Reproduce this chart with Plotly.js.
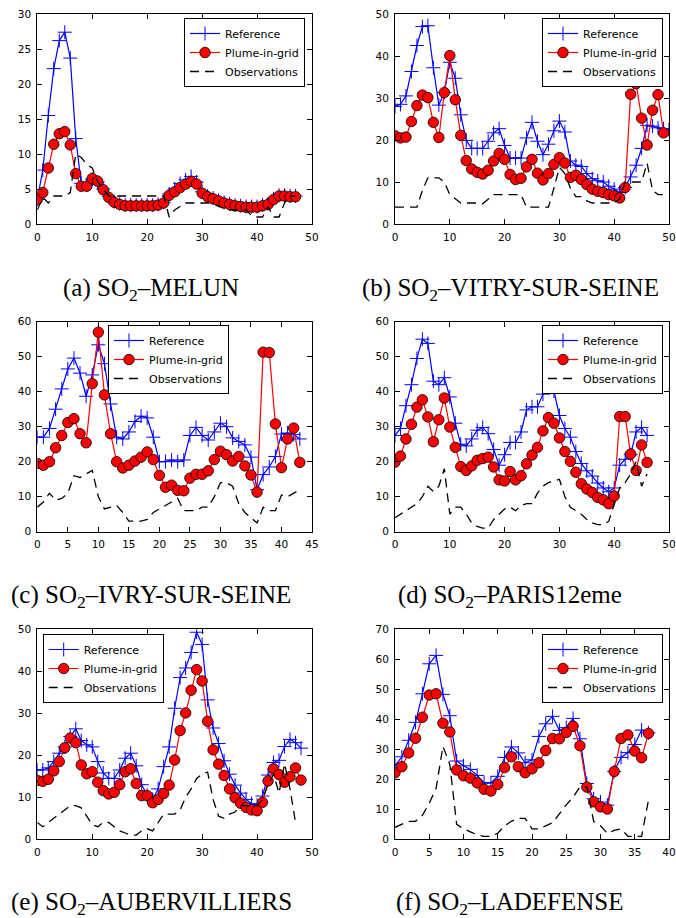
<!DOCTYPE html>
<html>
<head>
<meta charset="utf-8">
<script src="https://cdn.plot.ly/plotly-3.0.1.min.js"></script>
<style>html,body{margin:0;padding:0;background:#fff;}#chart{width:676px;height:918px;}</style>
</head>
<body>
<div id="chart"></div>
<script>
// ---------- data ----------
const seriesNames = ["Reference", "Plume-in-grid", "Observations"];
const captions = ["(a) SO<sub>2</sub>–MELUN", "(b) SO<sub>2</sub>–VITRY-SUR-SEINE", "(c) SO<sub>2</sub>–IVRY-SUR-SEINE",
                  "(d) SO<sub>2</sub>–PARIS12eme", "(e) SO<sub>2</sub>–AUBERVILLIERS", "(f) SO<sub>2</sub>–LADEFENSE"];

const a_ref = [3.5, 7.7, 15.5, 22.2, 26.2, 27.4, 23.7, 12.2, 5.8, 5.6, 6.4, 6.0, 5.0, 3.9, 3.2, 2.9, 2.7, 2.7, 2.7, 2.7, 2.7, 2.7, 2.8, 3.1, 4.3, 5.0, 5.8, 6.3, 6.8, 6.0, 4.6, 4.0, 3.7, 3.4, 3.1, 2.9, 2.7, 2.6, 2.5, 2.5, 2.5, 2.7, 2.9, 3.6, 4.1, 4.1, 4.0, 4.0];
const a_pig = [3.5, 4.5, 8.0, 11.4, 12.9, 13.2, 11.3, 7.2, 5.4, 5.4, 6.5, 6.1, 4.9, 3.8, 3.1, 2.8, 2.6, 2.6, 2.6, 2.6, 2.6, 2.6, 2.7, 3.0, 4.1, 4.6, 5.2, 5.7, 6.1, 5.7, 4.4, 3.9, 3.6, 3.3, 3.0, 2.8, 2.6, 2.5, 2.4, 2.4, 2.4, 2.6, 2.8, 3.5, 4.0, 4.0, 3.9, 3.9];
const a_obs = [2, 3.8, 3, 4, 4, 4, 4.5, 10, 9.5, 8.5, 8, 6, 5, 4, 4, 4, 4, 4, 4, 4, 4, 4, 4, 4, 1, 2, 2.5, 3, 3, 3, 3, 3, 3, 2.5, 2.2, 2, 2, 2, 2, 1.2, 1, 1, 2.5, 1, 1, 3, 4, 4];

const b_ref = [28, 28.5, 30.5, 36.3, 42.5, 47, 47.2, 37.2, 28.3, 31.3, 38.5, 34.7, 26, 19.9, 18, 18, 18, 19.7, 21.7, 22.7, 18.7, 15.7, 15.7, 15.7, 20.5, 24.2, 19.7, 16.5, 19, 22.2, 24.5, 21.9, 15, 14, 13.7, 12, 10.8, 10.3, 10, 9, 8.3, 7.5, 8.7, 11.2, 14, 18, 23.5, 23.3, 22.9, 22.7, 22.5];
const b_pig = [21, 20.5, 20.7, 24.4, 28.2, 30.7, 30.1, 24.2, 20.6, 31.3, 40.1, 29.6, 21.1, 15.1, 13.1, 12.3, 11.9, 12.8, 15, 16.8, 15.4, 11.8, 10.6, 10.9, 13.6, 15.4, 12.1, 10.5, 12, 14.2, 15.8, 14.5, 11.1, 11.6, 10.6, 9.4, 8.3, 7.8, 7.5, 7, 6.7, 6.2, 8.7, 30.9, 33.4, 25.2, 18.8, 27.1, 30.8, 21.7];
const b_obs = [4, 4, 4, 4, 4, 8, 11, 11, 11, 10, 7, 6, 5, 5, 5, 5, 4.8, 6, 7, 7, 7, 7, 7, 7, 4, 4, 4, 4, 4, 8.5, 13.5, 12, 8.5, 6.5, 6.5, 5.5, 5, 5, 5, 5, 5, 6, 10, 10, 10, 10, 14.5, 8, 7, 7];

const c_ref = [27, 27, 29.5, 35, 40.8, 46.5, 49.6, 45.3, 38.7, 44.8, 53.4, 48, 36.5, 27, 26.5, 28.5, 31.5, 33, 32.5, 27, 20, 20, 20.5, 20, 20.5, 27.5, 29.8, 27.5, 26.2, 28.5, 31, 30, 26.8, 25.8, 24.8, 21.3, 12, 16.3, 18.5, 21.5, 27.9, 28.2, 27.8, 26.5];
const c_pig = [19.5, 19, 20, 24, 27.5, 31.2, 32.3, 28, 25.4, 42.3, 57, 39.1, 28, 20, 18.2, 19, 20.2, 21.3, 22.8, 20.6, 16.1, 12.7, 13.3, 11.8, 11.7, 15.3, 16.4, 16.4, 17.4, 20.6, 23, 22, 20.2, 21.5, 18.8, 16.2, 11.3, 51.3, 51.2, 30.8, 18.3, 26.5, 29.6, 19.8];
const c_obs = [7, 8.5, 11, 9, 9.5, 11, 16, 15.5, 16.5, 17.5, 10, 6.5, 7, 7.5, 5.5, 3, 3, 3, 3.5, 5.5, 6.5, 7.5, 8.5, 9.5, 6, 6, 6, 7, 7, 10, 14, 14, 13, 8, 5.5, 4, 2.5, 7, 6, 6, 10.5, 10, 11, 12];

const d_ref = [27.5, 29.5, 36, 42, 49.5, 55, 53.8, 43, 42, 44, 38.5, 31, 25, 24.5, 26.5, 29, 29.8, 28, 23.5, 19, 22, 25.5, 25.5, 28.5, 34.8, 35.7, 35.7, 39.3, 42.8, 40.2, 33.2, 29.5, 27, 22.9, 19.5, 17.4, 15.9, 13.9, 12.5, 11.4, 12.5, 19, 20.7, 22, 28.5, 29.8, 27.5];
const d_pig = [19.9, 21.6, 26.5, 30.7, 35.6, 37.7, 32.8, 25.7, 32, 38.2, 29.9, 24.1, 18.6, 17.5, 18.8, 20.4, 20.9, 21.3, 18.5, 14.8, 14.5, 17.2, 14.8, 16, 19.4, 21.9, 24.1, 28.8, 32.6, 31, 26.8, 22.9, 20.1, 17, 13.7, 12.2, 11.2, 9.8, 9.1, 8, 10.2, 32.9, 32.9, 22.2, 17.5, 24.8, 19.8];
const d_obs = [4, 5, 6, 7, 8, 10, 13, 11.5, 13, 18, 5, 7, 7, 5, 2.5, 1.5, 1, 1, 3.5, 5, 6.5, 7, 6, 7.5, 8, 8, 11, 13, 14, 14.5, 15, 10, 7, 6, 5, 3.5, 2.5, 2, 2, 3, 7.5, 12.5, 14, 16.5, 20, 13, 16.5];

const e_ref = [16.5, 16.5, 17, 18.5, 20.5, 22, 24.5, 26.3, 23.5, 22.5, 22, 18.5, 15.8, 14.5, 14.5, 16.5, 19.3, 20.5, 17.5, 13, 10.5, 9.5, 12, 17.3, 22, 31.2, 38.5, 40.8, 44.5, 49.3, 46.4, 33.2, 26.5, 22.8, 18.7, 15.5, 12.9, 11, 9.5, 8.5, 8.1, 10.3, 15.3, 18.3, 18.8, 22.1, 23.8, 23, 21.7];
const e_pig = [14, 13.8, 14.3, 16.3, 18.5, 21.8, 24.1, 23, 17.7, 15.6, 16.1, 13.6, 11.6, 10.8, 11.2, 13, 16.1, 16.8, 13.3, 10.4, 10.4, 8.7, 9.5, 10.9, 12.9, 18.9, 25.9, 30.1, 35.5, 40.4, 37.7, 28.1, 21.3, 17.9, 15.2, 12, 9.9, 8.6, 7.6, 7, 6.8, 8.8, 13.9, 16.8, 15.4, 13.6, 14.9, 17, 14.1];
const e_obs = [4, 3, 4, 5, 6, 7, 8, 8, 7.5, 5.5, 3.5, 3, 4, 4, 3, 2, 1.5, 1, 1, 2, 2.5, 2, 4, 6, 6, 6, 7, 10, 12, 14.5, 15.5, 16, 9.5, 5.5, 5, 6, 6.5, 8, 8, 8, 8, 9.5, 13, 15.5, 11, 18, 12, 4];

const f_ref = [24.5, 27.5, 33, 39, 48.5, 58.5, 61.3, 48.3, 41.2, 26.1, 24.5, 23.3, 21.3, 18.8, 18.8, 21, 27.3, 30.8, 28.8, 25.5, 26.5, 34.3, 38.5, 41, 36.3, 37.2, 40.3, 33.5, 18.6, 13.5, 12.4, 11.4, 22.6, 27.3, 28.9, 31.6, 36.4, 35.5];
const f_pig = [22.2, 24.2, 28.8, 33.7, 40.7, 48.1, 48.5, 38.7, 35.8, 23.1, 21.2, 20.4, 18.8, 16.7, 16.1, 18.3, 23.9, 27.5, 24.2, 22.2, 23.5, 25.5, 29.6, 33.6, 33.5, 35.6, 37.7, 31.2, 17.4, 12.5, 10.8, 10.1, 22.6, 33.6, 34.8, 29.4, 27.2, 35.3];
const f_obs = [4, 5, 6, 6, 8, 12, 17, 31, 25, 5, 3.5, 2.5, 1.5, 1, 1, 2, 4.5, 6, 7, 7, 3.5, 3.5, 4.5, 5.5, 8.5, 11.5, 14, 17.5, 17.5, 6, 4.5, 2, 3, 3.5, 1, 1, 1, 13];

const xMax = [50, 50, 45, 50, 50, 40];
const xStep = [10, 10, 5, 10, 10, 5];
const yMax = [30, 50, 60, 60, 50, 70];
const yStep = [5, 10, 10, 10, 10, 10];

// ---------- layout geometry ----------
const W = 676, H = 918;
const colPx = [[37.3, 312], [395, 669]];
const rowPx = [[14, 224], [321.7, 531.7], [629.3, 839.3]];
const legendPos = [
  {x: 305, y: 18, xanchor: 'right'},
  {x: 663, y: 18, xanchor: 'right'},
  {x: 229, y: 325, xanchor: 'right'},
  {x: 663, y: 325, xanchor: 'right'},
  {x: 42.7, y: 634, xanchor: 'left'},
  {x: 663, y: 634, xanchor: 'right'}
];
const captionPx = [[151, 289], [510, 289], [151, 596], [510, 596], [151, 903], [510, 903]];

const panels = [
  [a_ref, a_pig, a_obs], [b_ref, b_pig, b_obs], [c_ref, c_pig, c_obs],
  [d_ref, d_pig, d_obs], [e_ref, e_pig, e_obs], [f_ref, f_pig, f_obs]
];

const idx = arr => arr.map((_, i) => i);
const tickFont = {family: 'DejaVu Sans', size: 10.5, color: '#000'};

const traces = [];
const layout = {
  width: W, height: H, margin: {l: 0, r: 0, t: 0, b: 0},
  paper_bgcolor: '#fff', plot_bgcolor: '#fff', showlegend: true,
  annotations: []
};

panels.forEach((p, k) => {
  const n = k === 0 ? '' : String(k + 1);
  const xa = 'x' + n, ya = 'y' + n;
  const lg = 'legend' + n;
  const col = k % 2, row = Math.floor(k / 2);
  const [ref, pig, obs] = p;
  traces.push({
    type: 'scatter', mode: 'lines+markers', name: seriesNames[0], x: idx(ref), y: ref,
    xaxis: xa, yaxis: ya, legend: lg,
    line: {color: '#0000ff', width: 1.2},
    marker: {symbol: 'cross-thin', size: 10, line: {color: '#0000ff', width: 1}}
  });
  traces.push({
    type: 'scatter', mode: 'lines+markers', name: seriesNames[1], x: idx(pig), y: pig,
    xaxis: xa, yaxis: ya, legend: lg,
    line: {color: '#ff0000', width: 1.2},
    marker: {symbol: 'circle', size: 10.5, color: '#ff0000', line: {color: '#000', width: 0.8}}
  });
  traces.push({
    type: 'scatter', mode: 'lines', name: seriesNames[2], x: idx(obs), y: obs,
    xaxis: xa, yaxis: ya, legend: lg,
    line: {color: '#000', width: 1.3, dash: '9px,6px'}
  });
  const axCommon = {
    showline: true, linecolor: '#000', linewidth: 1, mirror: 'allticks',
    ticks: 'inside', ticklen: 5, tickwidth: 1, tickcolor: '#000',
    showgrid: false, zeroline: false, tickfont: tickFont, tick0: 0,
    ticklabelstandoff: 3, fixedrange: true
  };
  layout['xaxis' + n] = Object.assign({}, axCommon, {
    domain: [colPx[col][0] / W, colPx[col][1] / W], anchor: ya,
    range: [0, xMax[k]], dtick: xStep[k]
  });
  layout['yaxis' + n] = Object.assign({}, axCommon, {
    domain: [1 - rowPx[row][1] / H, 1 - rowPx[row][0] / H], anchor: xa,
    range: [0, yMax[k]], dtick: yStep[k]
  });
  const lp = legendPos[k];
  layout[lg] = {
    x: lp.x / W, y: 1 - lp.y / H, xanchor: lp.xanchor, yanchor: 'top',
    bgcolor: '#fff', bordercolor: '#000', borderwidth: 1,
    font: {family: 'DejaVu Sans', size: 11, color: '#000'},
    itemwidth: 30, tracegroupgap: 0
  };
  layout.annotations.push({
    xref: 'paper', yref: 'paper', x: captionPx[k][0] / W, y: 1 - captionPx[k][1] / H,
    xanchor: 'center', yanchor: 'middle', showarrow: false,
    text: captions[k], font: {family: 'Liberation Serif', size: 25, color: '#000'}
  });
});

Plotly.newPlot('chart', traces, layout, {displayModeBar: false, staticPlot: true});
</script>
</body>
</html>
